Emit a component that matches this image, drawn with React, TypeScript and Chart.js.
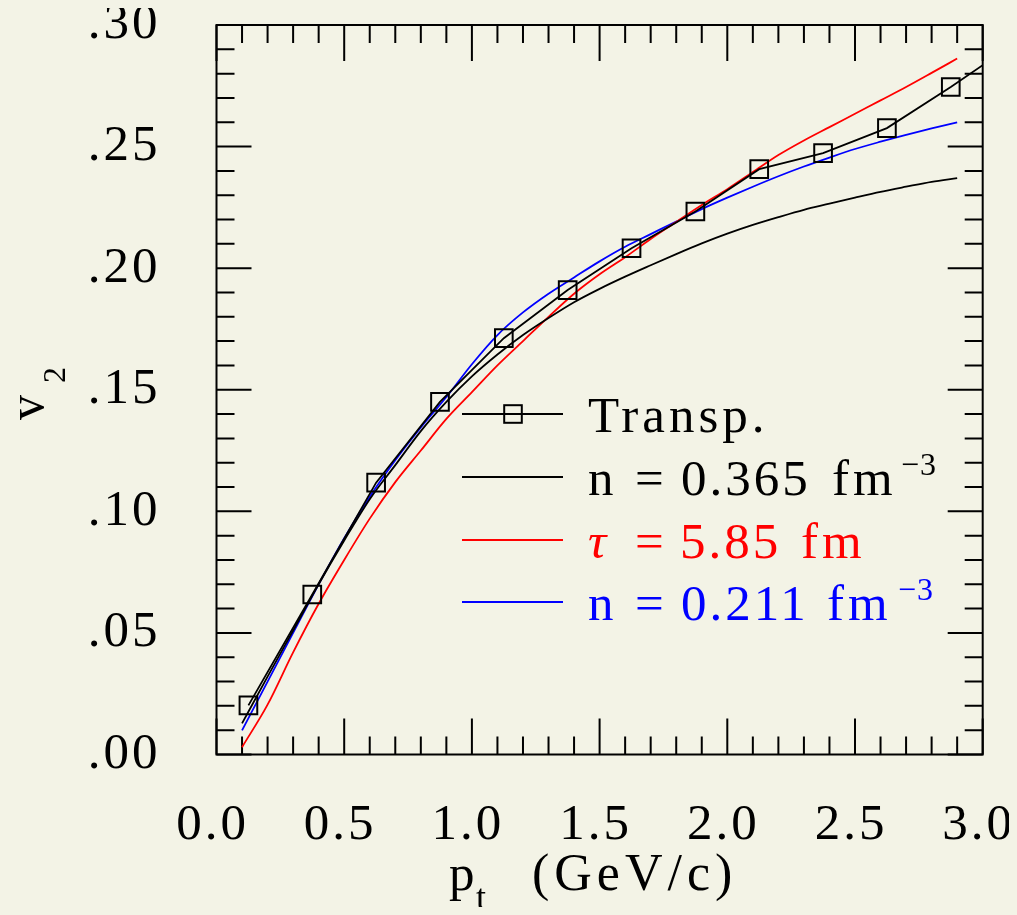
import React, { useEffect, useRef } from 'react';
import { Chart, registerables } from 'chart.js';

Chart.register(...registerables);

const BG = '#f3f3e6';
const FONT = '"Liberation Serif", "Times New Roman", serif';

// Transport model points (squares)
const transpX = [0.125, 0.375, 0.625, 0.875, 1.125, 1.375, 1.625, 1.875, 2.125, 2.375, 2.625, 2.875, 3.0];
const transpY = [0.0202, 0.0658, 0.1118, 0.145, 0.1712, 0.191, 0.2082, 0.2233, 0.2407, 0.2473, 0.2576, 0.2745, 0.2835];

// Hydro curves sampled in pt
const curveX = [0.1, 0.2, 0.3, 0.4, 0.5, 0.6, 0.7, 0.8, 0.9, 1.0, 1.1, 1.2, 1.3, 1.4, 1.5, 1.6, 1.7, 1.8, 1.9, 2.0, 2.1, 2.2, 2.3, 2.4, 2.5, 2.6, 2.7, 2.8, 2.9];
const n365 = [0.0128, 0.032, 0.051, 0.070, 0.088, 0.105, 0.119, 0.133, 0.145, 0.1555, 0.1645, 0.1725, 0.1795, 0.186, 0.1915, 0.1965, 0.2012, 0.2058, 0.2102, 0.2142, 0.2178, 0.221, 0.224, 0.2265, 0.229, 0.2314, 0.2335, 0.2355, 0.237];
const tau585 = [0.003, 0.0205, 0.042, 0.062, 0.080, 0.097, 0.112, 0.125, 0.138, 0.149, 0.160, 0.170, 0.180, 0.1895, 0.1975, 0.2045, 0.212, 0.219, 0.226, 0.2325, 0.2395, 0.2465, 0.2525, 0.258, 0.2635, 0.269, 0.2745, 0.2803, 0.2862];
const n211 = [0.0099, 0.030, 0.050, 0.070, 0.089, 0.106, 0.121, 0.1345, 0.147, 0.1605, 0.1725, 0.1818, 0.1895, 0.1962, 0.2028, 0.2088, 0.214, 0.2192, 0.2243, 0.229, 0.2335, 0.2378, 0.2418, 0.2455, 0.249, 0.252, 0.2548, 0.2575, 0.260];

const xTicks = [0, 0.5, 1.0, 1.5, 2.0, 2.5, 3.0];
const yTicks = [0, 0.05, 0.10, 0.15, 0.20, 0.25, 0.30];

const pts = (xs: number[], ys: number[]) => xs.map((x, i) => ({ x, y: ys[i] }));

function txt(ctx: CanvasRenderingContext2D, s: string, x: number, y: number, size: number, color = '#000', spacing = 3, italic = false) {
  ctx.save();
  ctx.font = `${italic ? 'italic ' : ''}${size}px ${FONT}`;
  (ctx as any).letterSpacing = `${spacing}px`;
  ctx.fillStyle = color;
  ctx.textAlign = 'left';
  ctx.textBaseline = 'alphabetic';
  ctx.fillText(s, x, y);
  ctx.restore();
}

const framePlugin = {
  id: 'frameTicks',
  beforeDraw(chart: any) {
    (chart.ctx as any).letterSpacing = '3px';
  },
  beforeDatasetsDraw(chart: any) {
    const { ctx, chartArea, scales } = chart;
    const { left, right, top, bottom } = chartArea;
    const x = scales.x, y = scales.y;
    ctx.save();
    ctx.strokeStyle = '#000';
    ctx.lineWidth = 2;
    ctx.strokeRect(left, top, right - left, bottom - top);
    ctx.beginPath();
    for (let i = 0; i <= 30; i++) {
      const px = x.getPixelForValue(i / 10);
      const len = i % 5 === 0 ? 36 : 18;
      ctx.moveTo(px, bottom); ctx.lineTo(px, bottom - len);
      ctx.moveTo(px, top); ctx.lineTo(px, top + len);
    }
    for (let i = 0; i <= 30; i++) {
      const py = y.getPixelForValue(i / 100);
      const len = i % 5 === 0 ? 35 : 18;
      ctx.moveTo(left, py); ctx.lineTo(left + len, py);
      ctx.moveTo(right, py); ctx.lineTo(right - len, py);
    }
    ctx.stroke();
    ctx.restore();
  },
  afterDraw(chart: any) {
    const ctx: CanvasRenderingContext2D = chart.ctx;
    (ctx as any).letterSpacing = '0px';
    // x axis title
    txt(ctx, 'p', 441, 882, 51, '#000', 3);
    txt(ctx, 't', 468, 901, 36, '#000', 0);
    txt(ctx, '(GeV/c)', 524, 882, 52, '#000', 5);
    // y axis title (rotated)
    ctx.save();
    ctx.translate(35, 412);
    ctx.rotate(-Math.PI / 2);
    txt(ctx, 'v', 0, 0, 50, '#000', 0);
    ctx.restore();
    ctx.save();
    ctx.translate(57, 375);
    ctx.rotate(-Math.PI / 2);
    txt(ctx, '2', 0, 0, 32, '#000', 0);
    ctx.restore();

    // legend
    const rows = [406, 469, 532, 594];
    const colors = ['#000', '#000', '#ff0000', '#0000ff'];
    ctx.save();
    ctx.lineWidth = 1.8;
    rows.forEach((ry, i) => {
      ctx.strokeStyle = colors[i];
      ctx.beginPath();
      ctx.moveTo(454, ry);
      ctx.lineTo(555, ry);
      ctx.stroke();
    });
    ctx.lineWidth = 2;
    ctx.strokeStyle = '#000';
    ctx.strokeRect(505 - 8.8, 406 - 8.8, 17.6, 17.6);
    ctx.restore();

    txt(ctx, 'Transp.', 580, 424, 51, '#000', 4);

    txt(ctx, 'n', 580, 487, 51, '#000', 3);
    txt(ctx, '=', 627, 487, 51, '#000', 3);
    txt(ctx, '0.365', 673, 487, 51, '#000', 3);
    txt(ctx, 'fm', 824, 487, 51, '#000', 4);
    txt(ctx, '\u22123', 893, 467, 32, '#000', 1);

    txt(ctx, '\u03C4', 580, 550, 51, '#ff0000', 3, true);
    txt(ctx, '=', 627, 550, 51, '#ff0000', 3);
    txt(ctx, '5.85', 672, 550, 51, '#ff0000', 3);
    txt(ctx, 'fm', 793, 550, 51, '#ff0000', 4);

    txt(ctx, 'n', 580, 612, 51, '#0000ff', 3);
    txt(ctx, '=', 627, 612, 51, '#0000ff', 3);
    txt(ctx, '0.211', 673, 612, 51, '#0000ff', 3);
    txt(ctx, 'fm', 819, 612, 51, '#0000ff', 4);
    txt(ctx, '\u22123', 890, 592, 32, '#0000ff', 1);
  },
};

export default function App() {
  const ref = useRef<HTMLCanvasElement>(null);
  useEffect(() => {
    document.body.style.background = BG;
    document.documentElement.style.background = BG;
    const canvas = ref.current!;
    const chart = new Chart(canvas, {
      type: 'line',
      data: {
        datasets: [
          {
            label: 'Transp.',
            data: pts(transpX, transpY),
            borderColor: '#000',
            borderWidth: 1.8,
            tension: 0,
            pointStyle: 'rect',
            pointRadius: transpX.map((_, i) => (i === transpX.length - 1 ? 0 : 12.5)),
            pointBorderWidth: 2,
            pointBorderColor: '#000',
            pointBackgroundColor: 'rgba(0,0,0,0)',
          },
          {
            label: 'n = 0.365 fm-3',
            data: pts(curveX, n365),
            borderColor: '#000',
            borderWidth: 1.8,
            cubicInterpolationMode: 'monotone',
            pointRadius: 0,
          },
          {
            label: 'tau = 5.85 fm',
            data: pts(curveX, tau585),
            borderColor: '#ff0000',
            borderWidth: 1.8,
            cubicInterpolationMode: 'monotone',
            pointRadius: 0,
          },
          {
            label: 'n = 0.211 fm-3',
            data: pts(curveX, n211),
            borderColor: '#0000ff',
            borderWidth: 1.8,
            cubicInterpolationMode: 'monotone',
            pointRadius: 0,
          },
        ],
      },
      options: {
        animation: false,
        responsive: false,
        devicePixelRatio: 1,
        layout: { padding: { top: 17, right: 26.3, left: 0, bottom: 0 } },
        plugins: { legend: { display: false }, tooltip: { enabled: false } },
        scales: {
          x: {
            type: 'linear',
            min: 0,
            max: 3,
            grid: { display: false, drawTicks: false },
            border: { display: false },
            afterBuildTicks: (s: any) => { s.ticks = xTicks.map((v) => ({ value: v })); },
            afterFit: (s: any) => { s.height = 152.5; s.paddingLeft = 0; s.paddingRight = 0; },
            ticks: {
              autoSkip: false,
              maxRotation: 0,
              padding: 41,
              labelOffset: -4,
              color: '#000',
              font: { family: FONT, size: 51, lineHeight: 1.2 },
              callback: (v: any) => Number(v).toFixed(1),
            },
          },
          y: {
            type: 'linear',
            min: 0,
            max: 0.3,
            grid: { display: false, drawTicks: false },
            border: { display: false },
            afterBuildTicks: (s: any) => { s.ticks = yTicks.map((v) => ({ value: v })); },
            afterFit: (s: any) => { s.width = 208.5; s.paddingTop = 0; s.paddingBottom = 0; },
            ticks: {
              autoSkip: false,
              padding: 56,
              color: '#000',
              font: { family: FONT, size: 51, lineHeight: 1.2 },
              callback: (v: any) => Number(v).toFixed(2).replace(/^0/, ''),
            },
          },
        },
      },
      plugins: [framePlugin],
    } as any);
    return () => chart.destroy();
  }, []);
  return (
    <div style={{ width: 1001, height: 899 }}>
      <canvas ref={ref} width={1001} height={899} style={{ display: 'block', width: 1001, height: 899 }} />
    </div>
  );
}
